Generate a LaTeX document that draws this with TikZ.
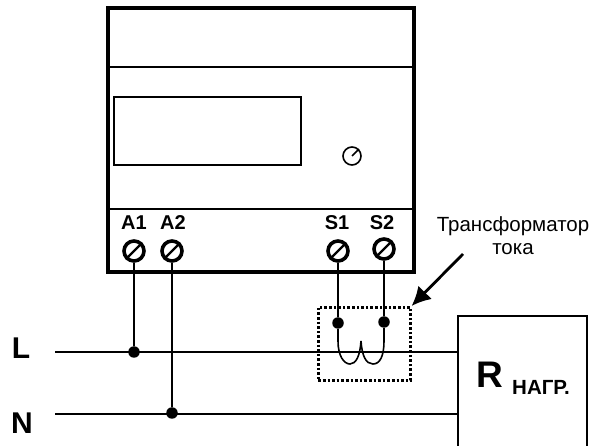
\documentclass[tikz,border=0pt]{standalone}
\usepackage{fontspec}
\setmainfont{Liberation Sans}
\usetikzlibrary{arrows.meta}
\tikzset{
  wire/.style={line width=2.2pt},
  dotj/.style={circle,fill=black,inner sep=0pt,minimum size=11.5pt},
  screw/.style={circle,draw=black,line width=3.6pt,fill=white,inner sep=0pt,minimum size=20pt},
  pinlab/.style={font=\bfseries\fontsize{20}{22}\selectfont,inner sep=0pt},
  busl/.style={font=\bfseries\fontsize{30}{32}\selectfont,inner sep=0pt},
  note/.style={font=\fontsize{20.5}{23}\selectfont,inner sep=0pt,align=center}
}
\begin{document}
\begin{tikzpicture}[x=1pt,y=-1pt]
\useasboundingbox (0,0) rectangle (595,446);
\fill[white] (0,0) rectangle (595,446);
% meter
\draw[line width=4.2pt] (108,8) rectangle (414,272);
\draw[line width=2pt] (108,67) -- (414,67);
\draw[line width=2pt] (108,209) -- (414,209);
\draw[line width=2pt] (114,97) rectangle (301,165);
% knob
\node[circle,draw,line width=1.6pt,minimum size=18pt,inner sep=0pt] (knob) at (352,156) {};
\draw[line width=1.6pt] (knob.center) -- (knob.45);
% labels
\node[pinlab] at (134,223) {A1};
\node[pinlab] at (173,223) {A2};
\node[pinlab] at (337,223) {S1};
\node[pinlab] at (382,223) {S2};
% terminals
\node[screw] (a1) at (134,251) {};
\node[screw] (a2) at (172,251) {};
\node[screw] (s1) at (338,251) {};
\node[screw] (s2) at (384,249) {};
\foreach \n in {a1,a2,s1,s2}{\draw[line width=2.4pt] (\n.225) -- (\n.45);}
% load
\node[draw,line width=2pt,minimum width=129pt,minimum height=131pt,inner sep=0pt,anchor=north west] (load) at (457,315) {};
\node[font=\bfseries\fontsize{37}{38}\selectfont,inner sep=0pt,anchor=base west] (r) at (476,388) {R};
\node[font=\bfseries\fontsize{20.5}{22}\selectfont,inner sep=0pt,anchor=base west] at (512,395) {НАГР.};
% buses
\node[busl] (L) at (21,348) {L};
\node[busl] (N) at (22,423) {N};
\coordinate (ls) at (55,352);
\coordinate (ns) at (55,414);
\coordinate (le) at (load.west |- ls);
\coordinate (ne) at (load.west |- ns);
\draw[wire] (ls) -- (le);
\draw[wire] (ns) -- (ne);
\node[dotj] (j1) at (134,352) {};
\node[dotj] (j2) at (172,413) {};
\draw[wire] (a1) -- (j1);
\draw[wire] (a2) -- (j2);
% transformer
\node[dotj] (j3) at (338,323) {};
\node[dotj] (j4) at (384,322) {};
\coordinate (c0) at (338,341);
\coordinate (c1) at (361,341);
\coordinate (c2) at (384,341);
\draw[wire] (s1) -- (j3) -- (c0);
\draw[wire] (s2) -- (j4) -- (c2);
\draw[line width=1.6pt] (c0) .. controls (338,356) and (344,364) .. (350,364)
   .. controls (356,364) and (360,356) .. (c1)
   .. controls (362,356) and (366,364) .. (373,364)
   .. controls (380,364) and (384,356) .. (c2);
\node[draw,dotted,line width=2.6pt,minimum width=92pt,minimum height=73pt,inner sep=0pt,anchor=north west] (tr) at (317,306) {};
\node[note] (tl) at (513,236) {Трансформатор\\тока};
\coordinate (as) at (463,254);
\draw[line width=2.8pt,-{Latex[length=19pt,width=19pt]}] (as) -- (tr.north east);
\end{tikzpicture}
\end{document}
